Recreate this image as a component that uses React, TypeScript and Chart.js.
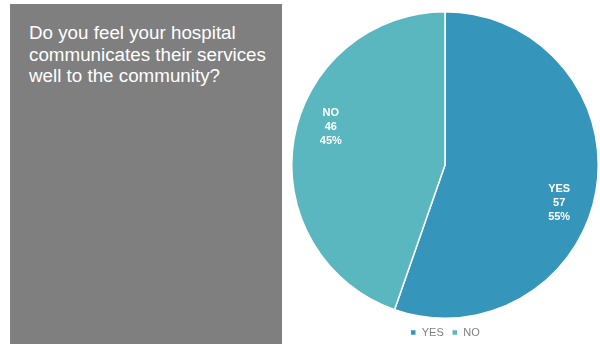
import React, { useEffect, useRef } from "react";
import { Chart, registerables } from "chart.js";

Chart.register(...registerables);

const TITLE_LINES = ["Do you feel your hospital", "communicates their services", "well to the community?"];
const CATEGORIES = ["YES", "NO"];
const VALUES = [57, 46];
const COLORS = ["#3595bb", "#5bb7bf"];

const labelPlugin = {
  id: "sliceLabels",
  afterDatasetsDraw(chart: any) {
    const ctx = chart.ctx;
    const meta = chart.getDatasetMeta(0);
    const data = chart.data.datasets[0].data as number[];
    const total = data.reduce((a, b) => a + b, 0);
    ctx.save();
    ctx.fillStyle = "#ffffff";
    ctx.font = "bold 11px 'Liberation Sans', Arial, sans-serif";
    ctx.textAlign = "center";
    ctx.textBaseline = "middle";
    meta.data.forEach((arc: any, i: number) => {
      const p = arc.getProps(["x", "y", "startAngle", "endAngle", "outerRadius"], true);
      const mid = (p.startAngle + p.endAngle) / 2 + (8.8 * Math.PI) / 180;
      const r = p.outerRadius * 0.785;
      const cx = p.x + Math.cos(mid) * r;
      const cy = p.y + Math.sin(mid) * r;
      const lines = [
        String(chart.data.labels[i]),
        String(data[i]),
        Math.round((data[i] / total) * 100) + "%",
      ];
      lines.forEach((t, k) => ctx.fillText(t, cx, cy + (k - 1) * 14));
    });
    ctx.restore();
  },
};

export default function App() {
  const ref = useRef<HTMLCanvasElement>(null);
  useEffect(() => {
    document.body.style.margin = "0";
    const chart = new Chart(ref.current!, {
      type: "pie",
      data: {
        labels: CATEGORIES,
        datasets: [
          {
            data: VALUES,
            backgroundColor: COLORS,
            borderColor: "#ffffff",
            borderWidth: 1.5,
          },
        ],
      },
      options: {
        animation: false,
        responsive: false,
        maintainAspectRatio: false,
        layout: { padding: { top: 11, bottom: 2, left: 0, right: 0 } },
        plugins: {
          tooltip: { enabled: false },
          legend: {
            position: "bottom",
            labels: {
              boxWidth: 6,
              boxHeight: 6,
              padding: 8,
              color: "#7f7f7f",
              font: { size: 11, family: "'Liberation Sans', Arial, sans-serif" },
            },
          },
        },
      },
      plugins: [labelPlugin],
    });
    return () => chart.destroy();
  }, []);

  return (
    <div style={{ position: "relative", width: 600, height: 346, background: "#fff", overflow: "hidden" }}>
      <div
        style={{
          position: "absolute",
          left: 10,
          top: 4,
          width: 272,
          height: 340,
          background: "#7f7f7f",
        }}
      >
        <div
          style={{
            position: "absolute",
            left: 19,
            top: 18,
            color: "#ffffff",
            fontFamily: "'Liberation Sans', Arial, sans-serif",
            fontSize: 18.8,
            lineHeight: "21.5px",
            whiteSpace: "nowrap",
          }}
        >
          {TITLE_LINES.map((l, i) => (
            <div key={i}>{l}</div>
          ))}
        </div>
      </div>
      <canvas
        ref={ref}
        width={310}
        height={350}
        style={{ position: "absolute", left: 290, top: 0, width: 310, height: 350 }}
      />
    </div>
  );
}
